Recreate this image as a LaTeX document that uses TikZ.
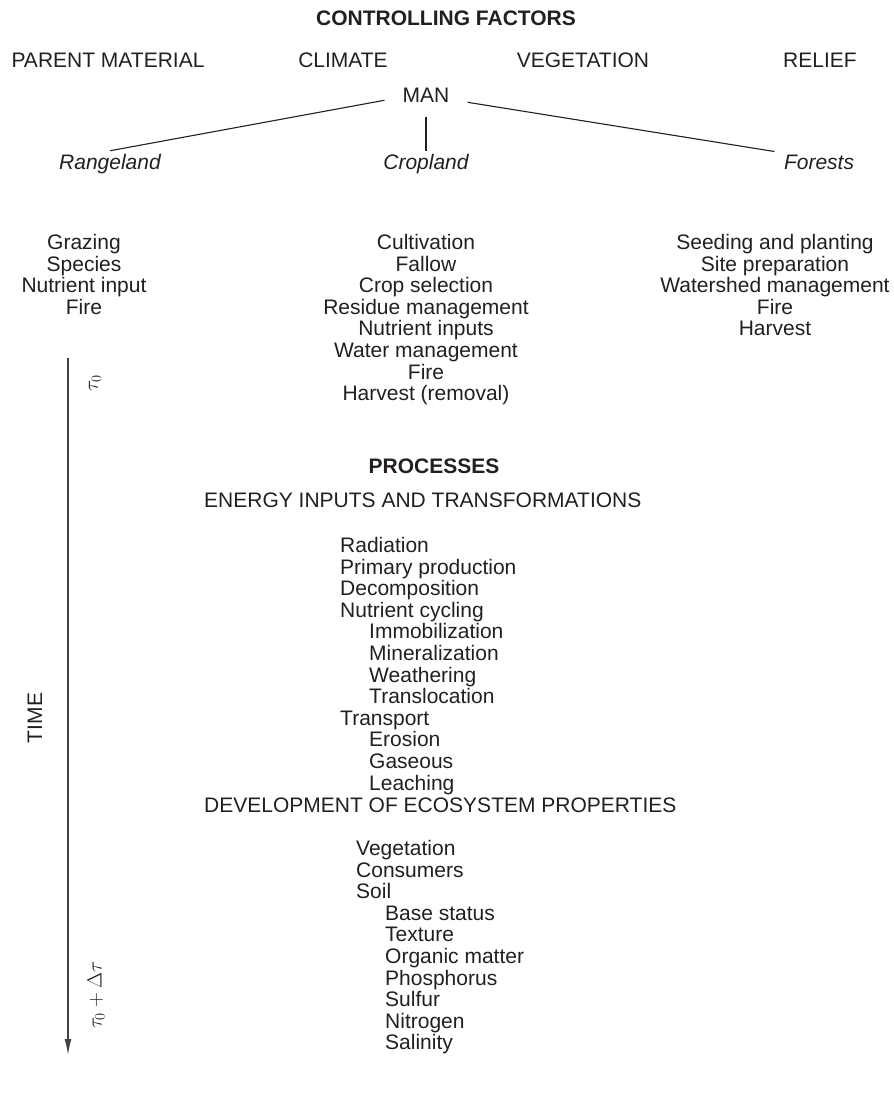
\documentclass[tikz,border=0pt]{standalone}
\usepackage{fontspec}
\setmainfont{Liberation Sans}
\usetikzlibrary{arrows.meta}
\definecolor{ink}{HTML}{231F20}

\begin{document}
\begin{tikzpicture}[x=1pt,y=1pt,
  every node/.style={font=\fontsize{21}{21.6}\selectfont, text=ink},
  head/.style={font=\fontsize{21}{21.6}\selectfont\bfseries, anchor=base},
  land/.style={font=\fontsize{21}{21.6}\selectfont\itshape, anchor=base},
  item/.style={anchor=base},
  sub/.style={anchor=base west, inner sep=0pt},
  link/.style={draw=ink, line width=1.1pt},
  tau/.style={font=\fontsize{20}{24}\selectfont}]
\useasboundingbox (0,0) rectangle (894,-1098);
\node[head] (ctrl) at (446,-25.5) {CONTROLLING FACTORS};
\node[item] (parent) at (108,-67.5) {PARENT MATERIAL};
\node[item] (climate) at (343,-67.5) {CLIMATE};
\node[item] (veg) at (583,-67.5) {VEGETATION};
\node[item] (relief) at (820,-67.5) {RELIEF};
\node[item, inner xsep=18pt] (man) at (426,-102.5) {MAN};
\node[land] (range) at (110,-169.5) {Rangeland};
\node[land] (crop) at (426,-169.5) {Cropland};
\node[land] (forest) at (819,-169.5) {Forests};
\draw[link] ([yshift=-5pt]man.west) -- (range.north);
\draw[link] ([yshift=-11pt]man.south) -- (crop.north);
\draw[link] ([yshift=-7pt]man.east) -- ([xshift=-6pt]forest.north west);
\node[item] (r1) at (84,-249.5) {Grazing};
\node[item] (r2) at (84,-271.1) {Species};
\node[item] (r3) at (84,-292.7) {Nutrient input};
\node[item] (r4) at (84,-314.3) {Fire};
\node[item] (c1) at (426,-249.5) {Cultivation};
\node[item] (c2) at (426,-271.1) {Fallow};
\node[item] (c3) at (426,-292.7) {Crop selection};
\node[item] (c4) at (426,-314.3) {Residue management};
\node[item] (c5) at (426,-335.9) {Nutrient inputs};
\node[item] (c6) at (426,-357.5) {Water management};
\node[item] (c7) at (426,-379.1) {Fire};
\node[item] (c8) at (426,-400.7) {Harvest (removal)};
\node[item] (f1) at (775,-249.5) {Seeding and planting};
\node[item] (f2) at (775,-271.1) {Site preparation};
\node[item] (f3) at (775,-292.7) {Watershed management};
\node[item] (f4) at (775,-314.3) {Fire};
\node[item] (f5) at (775,-335.9) {Harvest};
\coordinate (tstart) at (68,-358);
\coordinate (tend) at (68,-1055);
\draw[draw=ink!85, line width=1.4pt, -{Latex[length=16pt,width=7pt]}] (tstart) -- (tend);
\node[tau, rotate=90] (tau0) at (95,-383) {$\tau_0$};
\node[rotate=90] (time) at (35,-718) {TIME};
\node[tau, rotate=90] (tau1) at (96,-995) {$\tau_0 + \Delta\tau$};
\node[head] (proc) at (434,-473.5) {PROCESSES};
\node[sub] (energy) at (204,-507.5) {ENERGY INPUTS AND TRANSFORMATIONS};
\node[sub] (p1) at (340,-552.5) {Radiation};
\node[sub] (p2) at (340,-574.1) {Primary production};
\node[sub] (p3) at (340,-595.7) {Decomposition};
\node[sub] (p4) at (340,-617.3) {Nutrient cycling};
\node[sub] (p5) at (369,-638.9) {Immobilization};
\node[sub] (p6) at (369,-660.5) {Mineralization};
\node[sub] (p7) at (369,-682.1) {Weathering};
\node[sub] (p8) at (369,-703.7) {Translocation};
\node[sub] (p9) at (340,-725.3) {Transport};
\node[sub] (p10) at (369,-746.9) {Erosion};
\node[sub] (p11) at (369,-768.5) {Gaseous};
\node[sub] (p12) at (369,-790.1) {Leaching};
\node[sub] (devel) at (204,-812.5) {DEVELOPMENT OF ECOSYSTEM PROPERTIES};
\node[sub] (e1) at (356,-855.5) {Vegetation};
\node[sub] (e2) at (356,-877.1) {Consumers};
\node[sub] (e3) at (356,-898.7) {Soil};
\node[sub] (e4) at (385,-920.3) {Base status};
\node[sub] (e5) at (385,-941.9) {Texture};
\node[sub] (e6) at (385,-963.5) {Organic matter};
\node[sub] (e7) at (385,-985.1) {Phosphorus};
\node[sub] (e8) at (385,-1006.7) {Sulfur};
\node[sub] (e9) at (385,-1028.3) {Nitrogen};
\node[sub] (e10) at (385,-1049.9) {Salinity};
\end{tikzpicture}
\end{document}
